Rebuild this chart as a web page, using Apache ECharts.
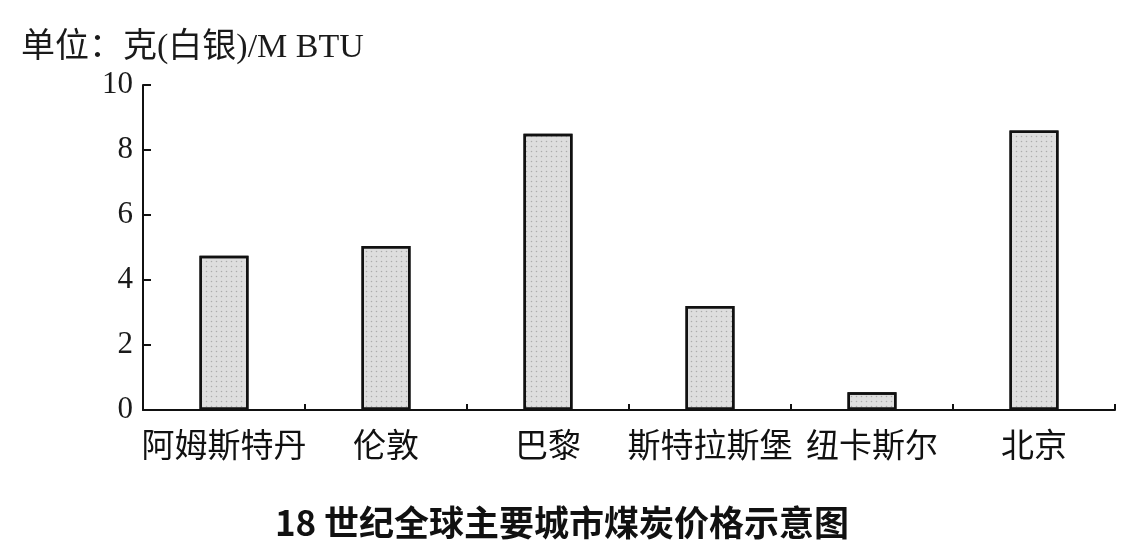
<!DOCTYPE html>
<html>
<head>
<meta charset="utf-8">
<script src="https://cdn.jsdelivr.net/npm/echarts@6/dist/echarts.min.js"></script>
<style>html,body{margin:0;padding:0;background:#fff;}#c{width:1124px;height:546px;}</style>
</head>
<body>
<div id="c"></div>
<script>
const categories = ['阿姆斯特丹', '伦敦', '巴黎', '斯特拉斯堡', '纽卡斯尔', '北京'];
const prices = [4.75, 5.05, 8.5, 3.2, 0.55, 8.6];
const yTicks = [0, 2, 4, 6, 8, 10];
const unitText = '单位：克(白银)/M BTU';
const titleText = '18 世纪全球主要城市煤炭价格示意图';

const chart = echarts.init(document.getElementById('c'), null, {renderer: 'canvas'});
chart.setOption({
  animation: false,
  backgroundColor: '#ffffff',
  title: [
    {
      text: unitText, left: 16, top: 26,
      textStyle: {fontFamily: 'Liberation Serif, Noto Sans CJK SC', fontSize: 34, fontWeight: 'normal', color: '#1a1a1a'}
    },
    {
      text: titleText, left: 'center', top: 500,
      textStyle: {fontFamily: 'Noto Sans CJK SC', fontSize: 35, fontWeight: 'bold', color: '#111'}
    }
  ],
  grid: {left: 143, right: 9, top: 85, bottom: 136, containLabel: false},
  xAxis: {
    type: 'category',
    data: categories,
    boundaryGap: true,
    axisLine: {lineStyle: {color: '#111', width: 2}},
    axisTick: {show: true, inside: true, length: 6, lineStyle: {color: '#111', width: 2}},
    axisLabel: {fontFamily: 'Noto Sans CJK SC', fontSize: 33, color: '#111', margin: 18, interval: 0}
  },
  yAxis: {
    type: 'value',
    min: yTicks[0], max: yTicks[yTicks.length - 1], interval: 2,
    splitLine: {show: false},
    axisLine: {show: true, lineStyle: {color: '#111', width: 2}},
    axisTick: {show: true, inside: true, length: 8, lineStyle: {color: '#111', width: 2}},
    axisLabel: {fontFamily: 'Liberation Serif', fontSize: 31, color: '#1a1a1a', margin: 10}
  },
  series: [{
    type: 'bar',
    data: prices,
    barWidth: 49,
    itemStyle: {
      color: '#dedede',
      borderColor: '#111',
      borderWidth: 2.5,
      decal: {symbol: 'circle', symbolSize: 0.5, dashArrayX: [3, 2], dashArrayY: [3, 2], color: 'rgba(80,80,80,0.35)'}
    }
  }]
});
</script>
</body>
</html>
